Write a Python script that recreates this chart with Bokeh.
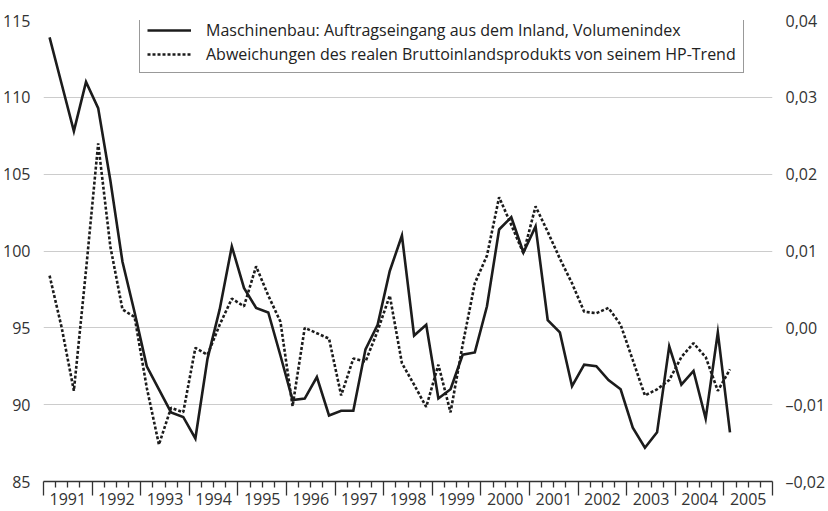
from bokeh.plotting import figure
from bokeh.models import (Range1d, LinearAxis, FixedTicker, Legend, LegendItem,
                          CustomJSTickFormatter)
from bokeh.embed import file_html
from bokeh.resources import INLINE

# ---------------- data ----------------
start_year = 1991
years = list(range(1991, 2006))            # x tick labels
left_ticks = [85, 90, 95, 100, 105, 110, 115]
right_ticks = [-0.02, -0.01, 0.0, 0.01, 0.02, 0.03, 0.04]

# quarterly, 1991 Q1 .. 2005 Q1
auftragseingang = [113.9, 110.85, 107.8, 111.0, 109.3, 104.6, 99.3, 96.0, 92.5, 91.0,
                   89.5, 89.2, 87.8, 93.0, 96.2, 100.3, 97.6, 96.3, 96.0, 93.2,
                   90.3, 90.4, 91.8, 89.3, 89.6, 89.6, 93.6, 95.2, 98.7, 101.0,
                   94.5, 95.2, 90.4, 91.0, 93.25, 93.4, 96.4, 101.4, 102.2, 99.9,
                   101.6, 95.5, 94.7, 91.2, 92.6, 92.5, 91.6, 91.0, 88.5, 87.2,
                   88.2, 93.8, 91.3, 92.2, 89.1, 94.7, 88.2]
bip_abweichung = [0.0068, 0.0, -0.0082, 0.0075, 0.024, 0.0106, 0.0024, 0.0014, -0.0078, -0.0152,
                  -0.0104, -0.011, -0.0026, -0.0035, 0.0004, 0.0038, 0.0028, 0.008, 0.0042, 0.0008,
                  -0.0102, 0.0, -0.0007, -0.0014, -0.0088, -0.004, -0.0044, -0.0004, 0.0042, -0.0046,
                  -0.0074, -0.0103, -0.0048, -0.011, -0.0022, 0.0058, 0.0094, 0.017, 0.0134, 0.0097,
                  0.0158, 0.0125, 0.009, 0.0058, 0.0021, 0.0019, 0.0026, 0.0004, -0.0042, -0.0088,
                  -0.008, -0.0068, -0.0038, -0.002, -0.0038, -0.0082, -0.0054]

label_solid = "Maschinenbau: Auftragseingang aus dem Inland, Volumenindex"
label_dotted = "Abweichungen des realen Bruttoinlandsprodukts von seinem HP-Trend"

# quarter mid-points
x_q = [start_year + (i + 0.5) / 4 for i in range(len(auftragseingang))]

FONT = "Open Sans"
TXT = "#333333"
INK = "#1c1c1c"
FS = "16px"

p = figure(width=828, height=511, output_backend="svg", toolbar_location=None,
           x_range=Range1d(years[0], years[-1] + 1), y_range=Range1d(85, 115),
           min_border_left=43, min_border_right=53, min_border_top=20, min_border_bottom=30)
p.outline_line_color = None
p.background_fill_color = "white"
p.extra_y_ranges = {"r": Range1d(-0.02, 0.04)}

# grid
p.xgrid.visible = False
p.ygrid.grid_line_color = "#cccccc"
p.ygrid.grid_line_width = 1.2

# left axis
la = p.yaxis[0]
la.ticker = FixedTicker(ticks=left_ticks)
la.axis_line_color = None
la.major_tick_line_color = None
la.minor_tick_line_color = None
la.major_label_standoff = 7
la.major_label_text_font = FONT
la.major_label_text_font_size = FS
la.major_label_text_color = TXT

# right axis
ra = LinearAxis(y_range_name="r",
                ticker=FixedTicker(ticks=right_ticks),
                formatter=CustomJSTickFormatter(code="""
                    const s = Math.abs(tick).toFixed(2).replace('.', ',');
                    return (tick < -1e-9 ? '\u2013' : '') + s;"""))
ra.axis_line_color = None
ra.major_tick_line_color = None
ra.minor_tick_line_color = None
ra.major_label_standoff = 7
ra.major_label_text_font = FONT
ra.major_label_text_font_size = FS
ra.major_label_text_color = TXT
p.add_layout(ra, "right")

# bottom axis 1: only ticks (years long, quarters short)
xa = p.xaxis[0]
year_edges = years + [years[-1] + 1]
quarter_edges = [y + q / 4 for y in years for q in (1, 2, 3)]
xa.ticker = FixedTicker(ticks=year_edges, minor_ticks=quarter_edges)
xa.formatter = CustomJSTickFormatter(code="return ''")
xa.major_label_text_font_size = "0px"
xa.major_label_standoff = 0
xa.axis_line_color = TXT
xa.axis_line_width = 1.3
xa.major_tick_line_color = TXT
xa.major_tick_line_width = 1.3
xa.major_tick_out = 14
xa.major_tick_in = 0
xa.minor_tick_line_color = TXT
xa.minor_tick_line_width = 1.3
xa.minor_tick_out = 6
xa.minor_tick_in = 0

# bottom axis 2: year labels centred in each year
xb = LinearAxis(ticker=FixedTicker(ticks=[y + 0.5 for y in years]),
                formatter=CustomJSTickFormatter(code="return (tick - 0.5).toFixed(0)"))
xb.axis_line_color = None
xb.major_tick_line_color = None
xb.minor_tick_line_color = None
xb.major_tick_out = 0
xb.major_label_standoff = -3
xb.major_label_text_font = FONT
xb.major_label_text_font_size = FS
xb.major_label_text_color = TXT
p.add_layout(xb, "below")

# lines
r1 = p.line(x_q, auftragseingang, line_color=INK, line_width=2.6, line_join="miter")
r2 = p.line(x_q, bip_abweichung, y_range_name="r", line_color=INK, line_width=2.6,
            line_dash="3 2")

legend = Legend(items=[LegendItem(label=label_solid, renderers=[r1]),
                       LegendItem(label=label_dotted, renderers=[r2])],
                location=(96, 408))
legend.border_line_color = "#333333"
legend.border_line_width = 1
legend.background_fill_color = "white"
legend.background_fill_alpha = 1
legend.padding = 7
legend.spacing = 2
legend.margin = 0
legend.label_text_font = FONT
legend.label_text_font_size = FS
legend.label_text_color = "#222222"
legend.glyph_width = 44
legend.glyph_height = 20
legend.label_height = 20
legend.label_standoff = 15
p.add_layout(legend, "center")

open("out.html", "w").write(file_html(p, INLINE))
